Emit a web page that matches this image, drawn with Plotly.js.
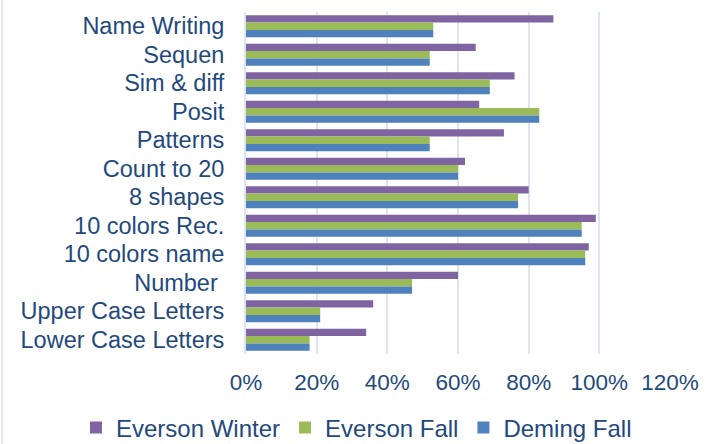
<!DOCTYPE html>
<html>
<head>
<meta charset="utf-8">
<script src="https://cdn.plot.ly/plotly-3.0.1.min.js"></script>
<style>html,body{margin:0;padding:0;background:#fff;}#chart{width:715px;height:444px;}</style>
</head>
<body>
<div id="chart"></div>
<script>
const categories = ["Name Writing","Sequen","Sim & diff","Posit","Patterns","Count to 20","8 shapes","10 colors Rec.","10 colors name","Number ","Upper Case Letters","Lower Case Letters"];
const seriesNames = ["Everson Winter","Everson Fall","Deming Fall"];
const eversonWinter = [0.87,0.65,0.76,0.66,0.73,0.62,0.80,0.99,0.97,0.60,0.36,0.34];
const eversonFall   = [0.53,0.52,0.69,0.83,0.52,0.60,0.77,0.95,0.96,0.47,0.21,0.18];
const demingFall    = [0.53,0.52,0.69,0.83,0.52,0.60,0.77,0.95,0.96,0.47,0.21,0.18];
const xTickVals = [0,0.2,0.4,0.6,0.8,1.0,1.2];
const xTickText = ["0%","20%","40%","60%","80%","100%","120%"];

const colors = ["#8064A2","#9BBB59","#4F81BD"];
const values = [eversonWinter, eversonFall, demingFall];
const textColor = "#1F497D";
const fam = "Liberation Sans, Arial, sans-serif";

const traces = values.map((v,i)=>({
  type:"bar", orientation:"h", name:seriesNames[i],
  x:v, y:categories,
  marker:{color:colors[i], line:{width:0}},
  hoverinfo:"x+y"
}));

const layout = {
  width:715, height:444,
  margin:{l:246, r:45, t:12, b:90, autoexpand:false},
  paper_bgcolor:"#fff", plot_bgcolor:"#fff",
  font:{family:fam, size:22, color:textColor},
  barmode:"group", bargap:0.22, bargroupgap:0,
  showlegend:true,
  legend:{orientation:"h", x:-0.401, xanchor:"left", y:-0.216, yanchor:"middle",
          font:{family:fam, size:24, color:textColor}, traceorder:"normal",
          itemwidth:30, bgcolor:"rgba(0,0,0,0)"},
  xaxis:{range:[0,1.2], tickmode:"array", tickvals:xTickVals, ticktext:xTickText,
         tickfont:{family:fam, size:22.5, color:textColor},
         showgrid:true, gridcolor:"#DCE6F2", gridwidth:2, zeroline:false,
         showline:false, ticks:"", ticklabelstandoff:12, automargin:false, fixedrange:true},
  yaxis:{type:"category", autorange:"reversed", tickmode:"array", tickvals:categories,
         tickfont:{family:fam, size:23.5, color:textColor},
         showgrid:false, zeroline:false,
         showline:true, linecolor:"#DCE6F2", linewidth:2, ticks:"",
         ticklabelstandoff:15, automargin:false, fixedrange:true},
  shapes:[{type:"line", xref:"paper", yref:"paper", x0:-0.575, x1:-0.575, y0:-0.3, y1:1.1,
           line:{color:"#DCE6F2", width:2}}]
};

Plotly.newPlot("chart", traces, layout, {displayModeBar:false, staticPlot:true});
</script>
</body>
</html>
